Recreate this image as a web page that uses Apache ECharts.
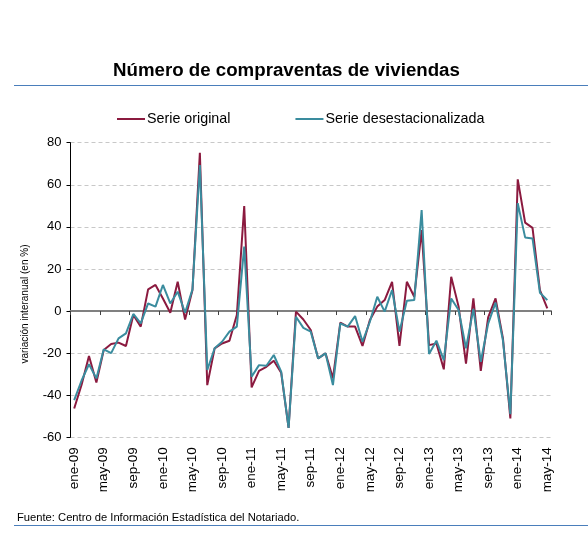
<!DOCTYPE html>
<html>
<head>
<meta charset="utf-8">
<script src="https://cdn.jsdelivr.net/npm/echarts@6/dist/echarts.min.js"></script>
<style>
html,body{margin:0;padding:0;background:#fff;}
#c{width:588px;height:558px;}
</style>
</head>
<body>
<div id="c"></div>
<script>
var monthAbbr = ['ene','feb','mar','abr','may','jun','jul','ago','sep','oct','nov','dic'];
var years = ['09','10','11','12','13','14'];
var categories = [];
years.forEach(function(y){ monthAbbr.forEach(function(m){ categories.push(m + '-' + y); }); });
categories = categories.slice(0, 65); // ene-09 .. may-14

var serieOriginal = [
 -46.3, -35, -21.4, -34, -18.5, -15.7, -15, -16.6, -1.9, -7.4, 10.3, 12.4,
 6, -0.8, 13.9, -4, 10, 75.2, -35.2, -17.7, -15.4, -14.1, -1.9, 49.9,
 -36.3, -28.4, -26.5, -23.6, -29.3, -55.5, -0.3, -4, -9, -22.5, -20.1, -32,
 -5.5, -7.4, -7.4, -16.6, -4.3, 2.1, 5.2, 13.9, -16.6, 13.9, 6.8, 38.5,
 -16.2, -15.4, -27.7, 16.3, 2.1, -25, 6, -28.4, -3, 6, -13, -51,
 62.6, 42, 39.5, 10, 1.3
];
var serieDesest = [
 -42.3, -33, -25.3, -32, -18.2, -20, -13, -10.6, -1.4, -5.9, 3.6, 2.1,
 12.4, 3.6, 9.2, -0.8, 10.3, 69.4, -28, -17.7, -14.6, -9.8, -7.4, 30.6,
 -31.2, -25.7, -26, -20.9, -28.8, -55.5, -2.7, -8, -9.8, -22.5, -20.1, -35.2,
 -5.9, -7.4, -2.4, -14.6, -5.1, 6.8, -0.3, 10, -9.8, 4.9, 5.2, 48,
 -20.4, -14.1, -23.3, 6, 0.5, -17.7, 1, -24.1, -6, 4, -14, -49,
 51.3, 35, 34.5, 8.7, 5.2
];
var seriesNames = ['Serie original', 'Serie desestacionalizada'];
var FONT = '"Liberation Sans", Arial, sans-serif';

var chart = echarts.init(document.getElementById('c'), null, {renderer:'canvas'});
chart.setOption({
  animation: false,
  backgroundColor: '#fff',
  textStyle: {fontFamily: FONT},
  title: {
    text: 'Número de compraventas de viviendas',
    left: 108, top: 56,
    textStyle: {fontFamily: FONT, fontSize: 18.7, fontWeight: 'bold', color: '#000'}
  },
  legend: {
    data: seriesNames,
    top: 112, left: 117, padding: 0,
    itemWidth: 28, itemHeight: 2, itemGap: 65,
    icon: 'rect',
    textStyle: {fontFamily: FONT, fontSize: 14.3, color: '#000', padding: [0,0,0,-3]}
  },
  grid: {left: 70.5, right: 37, top: 142.7, bottom: 120.7, containLabel: false},
  xAxis: [{
    type: 'category', data: categories, boundaryGap: true, position: 'bottom',
    axisLine: {onZero: true, lineStyle: {color: '#808080', width: 2}},
    axisTick: {show: true, interval: 3, length: 4, lineStyle: {color: '#404040', width: 1}},
    axisLabel: {show: false},
    splitLine: {show: false}
  },{
    type: 'category', data: categories, boundaryGap: true, position: 'bottom',
    axisLine: {show: false, onZero: false},
    axisTick: {show: false},
    axisLabel: {show: true, interval: 3, rotate: 90, margin: 10, fontFamily: FONT, fontSize: 13.5, color: '#000'},
    splitLine: {show: false}
  }],
  yAxis: {
    type: 'value', min: -60, max: 80, interval: 20,
    axisLine: {show: true, lineStyle: {color: '#000', width: 1}},
    axisTick: {show: true, length: 4, lineStyle: {color: '#000'}},
    axisLabel: {fontFamily: FONT, fontSize: 13, color: '#000', margin: 9},
    splitLine: {show: true, lineStyle: {color: '#c8c8c8', type: [4,3], width: 1}}
  },
  graphic: [
    {type: 'line', shape: {x1: 14, y1: 85.5, x2: 588, y2: 85.5}, style: {stroke: '#4a7ebb', lineWidth: 1}},
    {type: 'text', x: 25, y: 304, rotation: Math.PI/2,
     style: {text: 'variación interanual (en %)', font: '10px "Liberation Sans", Arial, sans-serif', fill: '#000', textAlign: 'center', textVerticalAlign: 'middle'}},
    {type: 'text', x: 17, y: 517.5,
     style: {text: 'Fuente: Centro de Información Estadística del Notariado.', font: '11.2px "Liberation Sans", Arial, sans-serif', fill: '#000', textAlign: 'left', textVerticalAlign: 'middle'}},
    {type: 'line', shape: {x1: 14, y1: 525.5, x2: 588, y2: 525.5}, style: {stroke: '#4a7ebb', lineWidth: 1}}
  ],
  series: [{
    name: seriesNames[0], type: 'line', data: serieOriginal, xAxisIndex: 0,
    showSymbol: false, symbol: 'none',
    lineStyle: {color: '#8b1a3f', width: 2}, itemStyle: {color: '#8b1a3f'}
  },{
    name: seriesNames[1], type: 'line', data: serieDesest, xAxisIndex: 0,
    showSymbol: false, symbol: 'none',
    lineStyle: {color: '#3a8c9e', width: 2}, itemStyle: {color: '#3a8c9e'}
  }]
});
</script>
</body>
</html>
